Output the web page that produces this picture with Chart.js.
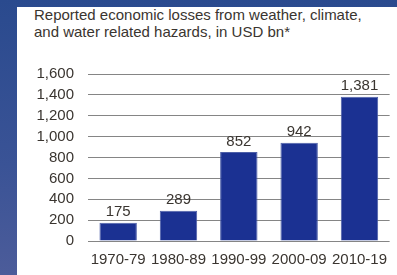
<!DOCTYPE html>
<html>
<head>
<meta charset="utf-8">
<script src="https://cdn.jsdelivr.net/npm/chart.js@4"></script>
<style>
  html, body { margin: 0; padding: 0; }
  body {
    width: 397px; height: 275px; overflow: hidden; position: relative;
    background: linear-gradient(180deg, #2a4a8e 0%, #3a5396 60%, #4c5c9a 100%);
  }
  #panel {
    position: absolute; left: 17px; top: 7px; width: 380px; height: 268px;
    background: #fff;
  }
  #title {
    position: absolute; left: 34px; top: 6px;
    font: 15px "Liberation Sans", Arial, sans-serif; line-height: 17px;
    color: #3a3530;
  }
  #wrap { position: absolute; left: 0; top: 0; width: 397px; height: 275px; }
</style>
</head>
<body>
<div id="panel"></div>
<div id="title">Reported economic losses from weather, climate,<br>and water related hazards, in USD bn*</div>
<div id="wrap"><canvas id="lossChart"></canvas></div>
<script>
// decades and reported losses (USD bn)
const decades = ['1970-79', '1980-89', '1990-99', '2000-09', '2010-19'];
const losses = [175, 289, 852, 942, 1381];
const yTicksMax = 1600;
const yStep = 200;

// draws the value above each bar
const valueLabels = {
    id: 'valueLabels',
    afterDatasetsDraw: function(chart) {
        const ctx = chart.ctx;
        const meta = chart.getDatasetMeta(0);
        ctx.save();
        ctx.font = '15px "Liberation Sans", Arial, sans-serif';
        ctx.fillStyle = '#3a3530';
        ctx.textAlign = 'center';
        ctx.textBaseline = 'bottom';
        meta.data.forEach(function(bar, i) {
            ctx.fillText(losses[i].toLocaleString('en-US'), bar.x, bar.y - 3);
        });
        ctx.restore();
    }
};

new Chart(document.getElementById('lossChart'), {
    type: 'bar',
    data: {
        labels: decades,
        datasets: [{
            data: losses,
            backgroundColor: '#1b3192',
            borderColor: '#4d5fa8',
            borderWidth: 1,
            categoryPercentage: 0.62,
            barPercentage: 1
        }]
    },
    options: {
        responsive: true,
        maintainAspectRatio: false,
        animation: false,
        layout: { padding: { top: 74, bottom: 0, left: 0, right: 0 } },
        plugins: {
            legend: { display: false },
            tooltip: { enabled: false }
        },
        scales: {
            x: {
                afterFit: function(scale) { scale.height = 34; },
                grid: { display: false, drawTicks: false },
                border: { display: false },
                ticks: {
                    color: '#3a3530',
                    padding: 10,
                    maxRotation: 0,
                    autoSkip: false,
                    font: { family: '"Liberation Sans", Arial, sans-serif', size: 15 }
                }
            },
            y: {
                min: 0,
                max: yTicksMax,
                afterFit: function(scale) { scale.width = 88; },
                grid: { color: '#858585', lineWidth: 1, drawTicks: false },
                border: { display: false },
                ticks: {
                    stepSize: yStep,
                    autoSkip: false,
                    color: '#3a3530',
                    padding: 14,
                    font: { family: '"Liberation Sans", Arial, sans-serif', size: 15 }
                }
            }
        }
    },
    plugins: [valueLabels]
});
</script>
</body>
</html>
